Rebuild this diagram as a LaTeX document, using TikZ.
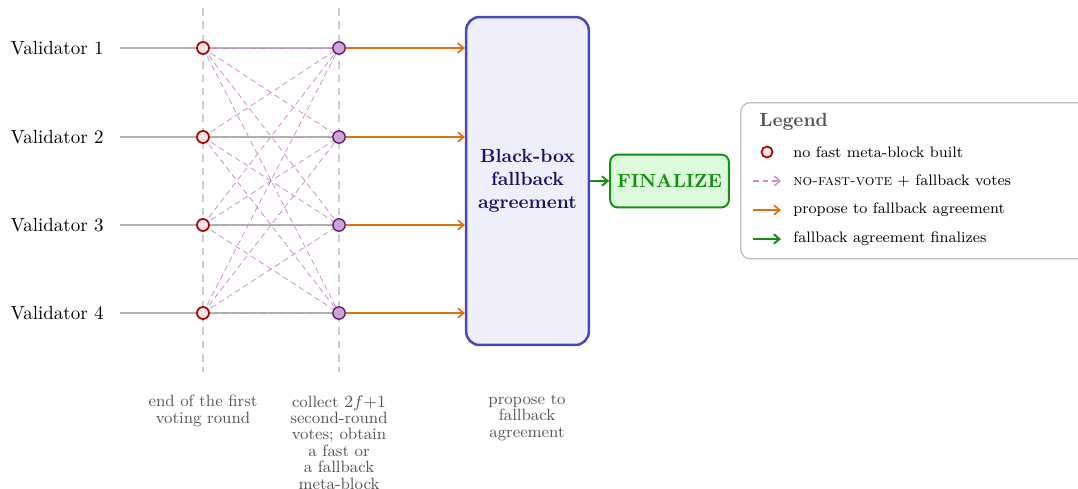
\documentclass[tikz,border=0pt]{standalone}
\usetikzlibrary{arrows.meta}
\definecolor{redc}{HTML}{AA0000}
\definecolor{redfill}{HTML}{FDE4E4}
\definecolor{purc}{HTML}{5E1A6E}
\definecolor{purfill}{HTML}{CDA4D8}
\definecolor{votec}{HTML}{CC8ACC}
\definecolor{orangec}{HTML}{E07010}
\definecolor{greenc}{HTML}{138E13}
\definecolor{greenfill}{HTML}{DDFADD}
\definecolor{boxc}{HTML}{4646BE}
\definecolor{boxfill}{HTML}{EFEFFC}
\definecolor{navy}{HTML}{14146E}
\definecolor{notec}{HTML}{555555}
\tikzset{
  redcirc/.style={circle,draw=redc,fill=redfill,line width=0.9pt,minimum size=6.3pt,inner sep=0pt},
  purcirc/.style={circle,draw=purc,fill=purfill,line width=0.7pt,minimum size=6.5pt,inner sep=0pt},
  vote/.style={draw=votec,line width=0.4pt,dash pattern=on 3pt off 2pt},
  timeline/.style={draw=black!30,line width=0.7pt},
  guide/.style={draw=black!20,line width=0.6pt,dash pattern=on 4pt off 3pt},
  propose/.style={draw=orangec,line width=0.9pt,-{Straight Barb[length=3pt,width=5pt]}},
  final/.style={draw=greenc,line width=1.0pt,-{Straight Barb[length=3pt,width=5pt]}},
  vlabel/.style={anchor=east,inner sep=0pt,font=\normalsize},
  note/.style={align=center,text=notec,font=\fontsize{8.6}{8.6}\selectfont,anchor=north,inner sep=0pt},
  legtext/.style={anchor=west,inner sep=0pt,font=\footnotesize},
}
\begin{document}
\begin{tikzpicture}[x=0.526pt,y=-0.526pt]
\clip (0,0) rectangle (1078,488);
\useasboundingbox (0,0) rectangle (1078,488);
% guides
\draw[guide] (203,8) -- (203,372);
\draw[guide] (339,8) -- (339,372);
% validators
\foreach \i/\y in {1/48,2/137,3/225,4/313}{
  \node[vlabel] (v\i) at (104,\y) {Validator \i};
  \coordinate (s\i) at (120,\y);
  \coordinate (a\i) at (203,\y);
  \coordinate (b\i) at (339,\y);
}
\foreach \i in {1,...,4}{
  \draw[timeline] (s\i) -- (b\i);
}
\foreach \i in {1,...,4}{
  \foreach \j in {1,...,4}{
    \draw[vote] (a\i) -- (b\j);
  }
}
\foreach \i in {1,...,4}{
  \node[redcirc] (r\i) at (a\i) {};
  \node[purcirc] (p\i) at (b\i) {};
}
% fallback box
\node[draw=boxc,fill=boxfill,line width=1.3pt,rounded corners=7pt,minimum width=64.5pt,minimum height=172.5pt,align=center,text=navy,font=\normalsize\bfseries] (fb) at (527.5,181) {Black-box\\fallback\\agreement};
\foreach \i in {1,...,4}{
  \draw[propose] (p\i) -- (p\i -| fb.west);
}
\node[draw=greenc,fill=greenfill,line width=1.0pt,rounded corners=4pt,minimum width=62.5pt,minimum height=27.8pt,text=greenc,font=\normalsize\bfseries] (fin) at (669.5,181) {FINALIZE};
\draw[final] (fb.east) -- (fin.west);
% notes
\node[note] (n1) at (203,395) {end of the first\\voting round};
\node[note] (n2) at (339,395) {collect $2f{+}1$\\second-round\\votes; obtain\\a fast or\\a fallback\\meta-block};
\node[note] (n3) at (527,394) {propose to\\fallback\\agreement};
% legend
\node[draw=black!25,line width=0.7pt,rounded corners=5pt,minimum width=189.4pt,minimum height=82.1pt,anchor=north west] (leg) at (740,102) {};
\node[anchor=west,inner sep=0pt,text=notec,font=\normalsize\bfseries] (lt) at (759,122) {Legend};
\node[redcirc,minimum size=5.8pt] (lc) at (767,152) {};
\node[legtext] (l1) at (793,152) {no fast meta-block built};
\coordinate (d1) at (753,181); \coordinate (d2) at (781,181);
\draw[vote,line width=0.7pt,-{Straight Barb[length=3pt,width=5pt]}] (d1) -- (d2);
\node[legtext] (l2) at (793,181) {\textsc{no-fast-vote} $+$ fallback votes};
\coordinate (o1) at (753,210); \coordinate (o2) at (781,210);
\draw[propose] (o1) -- (o2);
\node[legtext] (l3) at (793,210) {propose to fallback agreement};
\coordinate (g1) at (753,239); \coordinate (g2) at (781,239);
\draw[final] (g1) -- (g2);
\node[legtext] (l4) at (793,239) {fallback agreement finalizes};
\end{tikzpicture}
\end{document}
